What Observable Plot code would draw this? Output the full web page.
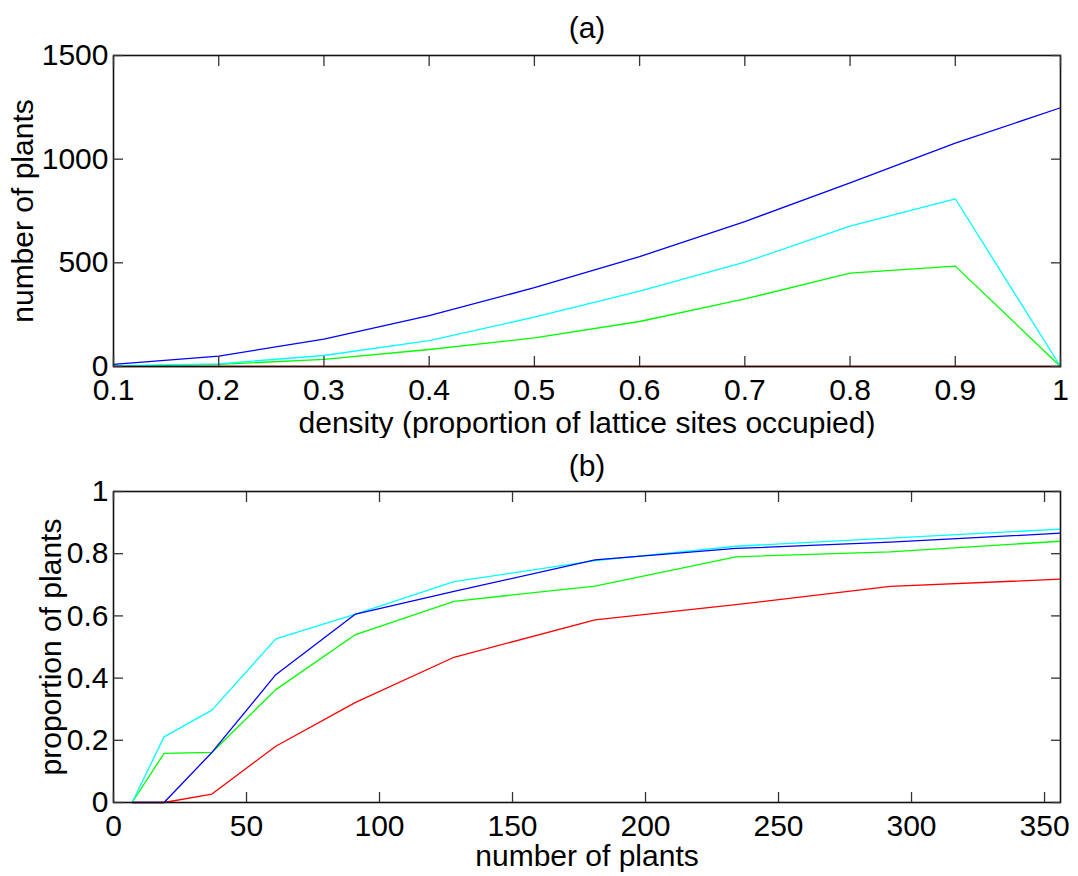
<!DOCTYPE html>
<html>
<head>
<meta charset="utf-8">
<script src="https://cdn.jsdelivr.net/npm/d3@7"></script>
<script src="https://cdn.jsdelivr.net/npm/@observablehq/plot@0.6"></script>
<style>
  html, body { margin: 0; padding: 0; background: #fff; }
  #wrap { position: relative; width: 1078px; height: 876px; }
  #wrap svg { display: block; }
</style>
</head>
<body>
<div id="wrap"></div>
<script>
// ---- Panel (a) data ----
const density = [0.1, 0.2, 0.3, 0.4, 0.5, 0.6, 0.7, 0.8, 0.9, 1.0];
const plantsBlue  = [10, 50, 132, 245, 380, 530, 699, 886, 1077, 1248];
const plantsCyan  = [3, 13, 53, 125, 238, 363, 503, 677, 809, 0];
const plantsGreen = [2, 10, 34, 82, 138, 217, 326, 450, 484, 0];
const plantsRed   = [0, 0, 0, 0, 0, 0, 0, 0, 0, 0];
const xTicksA = [0.1, 0.2, 0.3, 0.4, 0.5, 0.6, 0.7, 0.8, 0.9, 1];
const yTicksA = [0, 500, 1000, 1500];

// ---- Panel (b) data ----
const nPlants = [7, 19, 37, 61, 91, 128, 181, 234, 292, 356];
const propBlue  = [0, 0, 0.161, 0.411, 0.606, 0.679, 0.780, 0.817, 0.837, 0.866];
const propCyan  = [0, 0.211, 0.297, 0.526, 0.606, 0.710, 0.778, 0.824, 0.850, 0.879];
const propGreen = [0, 0.158, 0.161, 0.363, 0.540, 0.647, 0.696, 0.790, 0.806, 0.840];
const propRed   = [0, 0, 0.027, 0.181, 0.322, 0.467, 0.587, 0.636, 0.695, 0.718];
const xTicksB = [0, 50, 100, 150, 200, 250, 300, 350];
const yTicksB = [0, 0.2, 0.4, 0.6, 0.8, 1];

const colors = {blue: "#0000ff", cyan: "#00ffff", green: "#00ff00", red: "#ff0000"};

function toRows(xs, ys, series) {
  return xs.map((x, i) => ({x, y: ys[i], series}));
}

const FONT = "Liberation Sans, Arial, Helvetica, sans-serif";
const FS = 30;

function panel({title, xLabel, yLabel, xDomain, yDomain, xTicks, yTicks, rows,
                marginTop, marginBottom, height, titleDy, xLabelDy, yLabelDx}) {
  const lines = ["red", "green", "cyan", "blue"].map(s =>
    Plot.line(rows.filter(d => d.series === s), {
      x: "x", y: "y", stroke: colors[s], strokeWidth: 1.3
    })
  );
  return Plot.plot({
    width: 1078,
    height,
    marginLeft: 113,
    marginRight: 18,
    marginTop,
    marginBottom,
    style: {fontFamily: FONT, fontSize: FS + "px", color: "black", background: "white"},
    x: {domain: xDomain},
    y: {domain: yDomain},
    marks: [
      ...lines,
      Plot.frame({stroke: "#111", strokeWidth: 1.6}),
      Plot.axisX({anchor: "bottom", ticks: xTicks, tickSize: -10, tickPadding: 22,
                  tickFormat: d => String(d), label: null, stroke: "#333", strokeWidth: 1.3}),
      Plot.axisX({anchor: "top", ticks: xTicks, tickSize: -10,
                  tickFormat: () => "", label: null, stroke: "#333", strokeWidth: 1.3}),
      Plot.axisY({anchor: "left", ticks: yTicks, tickSize: -10, tickPadding: 15,
                  tickFormat: d => String(d), label: null, stroke: "#333", strokeWidth: 1.3}),
      Plot.axisY({anchor: "right", ticks: yTicks, tickSize: -10,
                  tickFormat: () => "", label: null, stroke: "#333", strokeWidth: 1.3}),
      Plot.text([title], {frameAnchor: "top", lineAnchor: "bottom", dy: titleDy,
                          text: d => d, fill: "black"}),
      Plot.text([xLabel], {frameAnchor: "bottom", lineAnchor: "bottom", dy: xLabelDy,
                           text: d => d, fill: "black"}),
      Plot.text([yLabel], {frameAnchor: "left", lineAnchor: "bottom", rotate: -90,
                           textAnchor: "middle", dx: yLabelDx, text: d => d, fill: "black"})
    ]
  });
}

const rowsA = [
  ...toRows(density, plantsBlue, "blue"),
  ...toRows(density, plantsCyan, "cyan"),
  ...toRows(density, plantsGreen, "green"),
  ...toRows(density, plantsRed, "red")
];
const rowsB = [
  ...toRows(nPlants, propBlue, "blue"),
  ...toRows(nPlants, propCyan, "cyan"),
  ...toRows(nPlants, propGreen, "green"),
  ...toRows(nPlants, propRed, "red")
];

const wrap = document.getElementById("wrap");
wrap.append(panel({
  title: "(a)",
  xLabel: "density (proportion of lattice sites occupied)",
  yLabel: "number of plants",
  xDomain: [0.1, 1], yDomain: [0, 1500],
  xTicks: xTicksA, yTicks: yTicksA, rows: rowsA,
  marginTop: 55, marginBottom: 72, height: 438,
  titleDy: -18, xLabelDy: 66, yLabelDx: -81
}));
wrap.append(panel({
  title: "(b)",
  xLabel: "number of plants",
  yLabel: "proportion of plants",
  xDomain: [0, 356], yDomain: [0, 1],
  xTicks: xTicksB, yTicks: yTicksB, rows: rowsB,
  marginTop: 53, marginBottom: 74, height: 438,
  titleDy: -16, xLabelDy: 63, yLabelDx: -53
}));
</script>
</body>
</html>
